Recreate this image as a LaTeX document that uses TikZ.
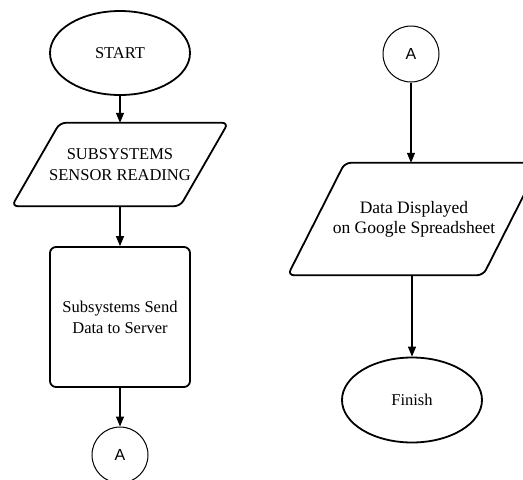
\documentclass[tikz,border=0pt]{standalone}
\usepackage{fontspec}
\setmainfont{Liberation Serif}
\newfontfamily\connfont{Liberation Sans}
\usetikzlibrary{shapes.geometric,arrows.meta,calc}
\begin{document}
\begin{tikzpicture}[x=1pt,y=-1pt,
  every node/.style={inner sep=0pt, align=center, font=\fontsize{16.5}{21}\selectfont},
  terminal/.style={ellipse, draw, line width=1.8pt, minimum width=140pt, minimum height=84pt},
  iobox/.style={rectangle, minimum width=#1},
  process/.style={rectangle, draw, line width=1.8pt, rounded corners=6pt,
                  minimum width=140pt, minimum height=140pt},
  connector/.style={circle, draw, line width=1pt, minimum size=56pt,
                    font=\connfont\fontsize{16}{19}\selectfont},
  outline/.style={draw, line width=1.8pt, rounded corners=6pt},
  flow/.style={-{Triangle[length=10pt,width=8pt]}, line width=1.2pt}
]
\path[use as bounding box] (0,0) rectangle (523,480);
\clip (0,0) rectangle (523,480);

% left column
\node[terminal] (start) at (120,53) {START};
\node[iobox=168pt, minimum height=83pt] (sens) at (120,164.5) {SUBSYSTEMS\\SENSOR READING};
\node[process] (send) at (120,317) {Subsystems Send\\Data to Server};
\node[connector] (a1) at (120,455) {A};

% right column
\node[connector] (a2) at (411,54) {A};
\node[iobox=195pt, minimum height=112pt,
      font=\fontsize{17.5}{20}\selectfont] (disp) at (414,219)
      {Data Displayed\\on Google Spreadsheet};
\node[terminal, minimum height=85pt] (fin) at (412,400) {Finish};

% parallelogram outlines around the input/output nodes
\path[outline] ($(sens.north)+(24,0)$) -- ($(sens.north east)+(24,0)$)
  -- ($(sens.south east)+(-24,0)$) -- ($(sens.south west)+(-24,0)$)
  -- ($(sens.north west)+(24,0)$) -- cycle;
\path[outline] ($(disp.north)+(28.5,0)$) -- ($(disp.north east)+(28.5,0)$)
  -- ($(disp.south east)+(-28.5,0)$) -- ($(disp.south west)+(-28.5,0)$)
  -- ($(disp.north west)+(28.5,0)$) -- cycle;

% flow lines
\draw[flow] (start) -- (sens);
\draw[flow] (sens) -- (send);
\draw[flow] (send) -- (a1);
\draw[flow] (a2) -- (a2 |- disp.north);
\draw[flow] (disp.south -| fin) -- (fin);
\end{tikzpicture}
\end{document}
